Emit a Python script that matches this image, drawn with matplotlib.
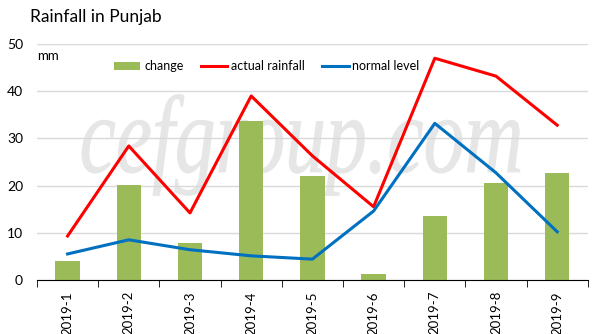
import matplotlib.pyplot as plt
import numpy as np
from matplotlib.textpath import TextPath
from matplotlib.patches import PathPatch
from matplotlib.font_manager import FontProperties
from matplotlib.transforms import Affine2D, IdentityTransform

plt.rcParams['font.family'] = ['Lato', 'DejaVu Sans']

months = ['2019-1', '2019-2', '2019-3', '2019-4', '2019-5',
          '2019-6', '2019-7', '2019-8', '2019-9']
change = [4.0, 20.1, 7.8, 33.7, 22.0, 1.3, 13.6, 20.5, 22.7]
actual_rainfall = [9.3, 28.4, 14.2, 39.0, 26.3, 15.5, 47.0, 43.2, 32.8]
normal_level = [5.5, 8.5, 6.4, 5.1, 4.4, 14.6, 33.2, 22.7, 10.2]

fig = plt.figure(figsize=(6.06, 3.34), dpi=100)
ax = fig.add_axes([0.061, 0.162, 0.909, 0.706])

x = np.arange(len(months))
ax.bar(x, change, width=0.4, color='#9bbb59', label='change', zorder=2)
ax.plot(x, actual_rainfall, color='#ff0000', lw=2.2, label='actual rainfall', zorder=3)
ax.plot(x, normal_level, color='#0070c0', lw=2.2, label='normal level', zorder=3)

ax.set_xlim(-0.5, len(months) - 0.5)
ax.set_ylim(0, 50)
ax.set_yticks(range(0, 51, 10))
ax.yaxis.grid(True, color='#d9d9d9', lw=1)
ax.set_axisbelow(True)

ax.set_xticks(x)
ax.set_xticklabels(months, rotation=90, fontsize=9.5)
ax.set_xticks(np.arange(-0.5, len(months)), minor=True)
ax.tick_params(axis='x', which='major', length=0, pad=8)
ax.tick_params(axis='x', which='minor', length=5, color='black')
ax.tick_params(axis='y', length=0, labelsize=10, pad=10)

for s in ['top', 'right', 'left']:
    ax.spines[s].set_visible(False)
ax.spines['bottom'].set_color('black')

# watermark, stretched to a tall narrow italic, kept under the grid and data
wm = TextPath((0, 0), 'cefgroup.com', size=1,
              prop=FontProperties(family='Liberation Serif', style='italic'))
bb = wm.get_extents()
sx = 438 / bb.width
sy = 110
tr = Affine2D().translate(-bb.x0, 0).scale(sx, sy).translate(82, 162)
wm_patch = PathPatch(tr.transform_path(wm), transform=IdentityTransform(),
                     facecolor='#e6e6e6', edgecolor='#e6e6e6', lw=0.6,
                     zorder=0.2, clip_on=False)
ax.add_artist(wm_patch)

ax.text(0.0, 0.95, 'mm', transform=ax.transAxes, fontsize=9.5, va='center')
h, l = ax.get_legend_handles_labels()
order = [2, 0, 1]
ax.legend([h[i] for i in order], [l[i] for i in order], loc='center left',
          bbox_to_anchor=(0.14, 0.905), ncol=3, frameon=False,
          fontsize=9, handlelength=2.1, handleheight=0.6, handletextpad=0.3,
          columnspacing=1.4, borderpad=0, borderaxespad=0)

fig.text(0.05, 0.95, 'Rainfall in Punjab', fontsize=12.5, va='center')

fig.savefig('out.png', dpi=100)
